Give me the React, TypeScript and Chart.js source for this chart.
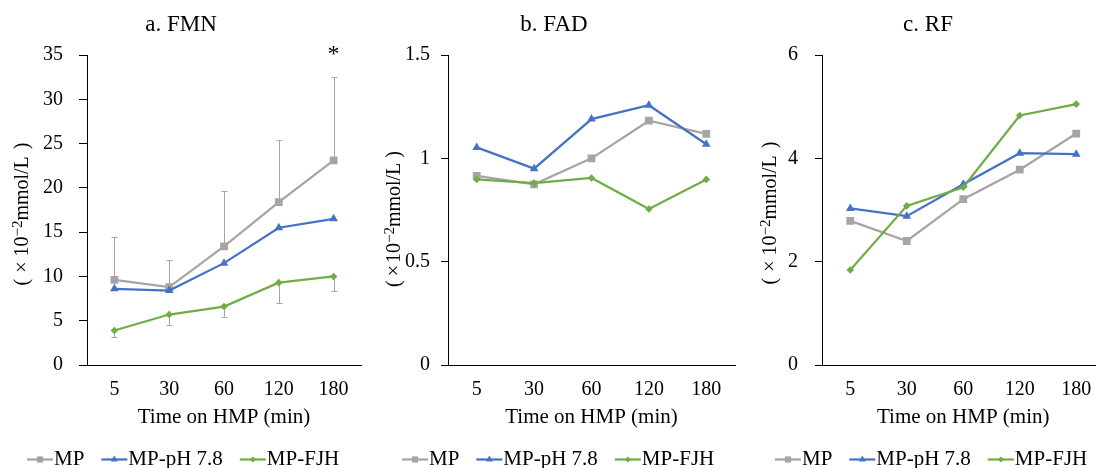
import { useEffect, useRef } from 'react';
import { Chart, registerables } from 'chart.js';

Chart.register(...registerables);

// Sampling times on hypothermic machine perfusion
const categories = ['5', '30', '60', '120', '180'];
const seriesNames = ['MP', 'MP-pH 7.8', 'MP-FJH'];

// a. FMN (×10⁻² mmol/L)
const fmnMP = [9.6, 8.8, 13.4, 18.4, 23.1];
const fmnPH = [8.6, 8.4, 11.5, 15.5, 16.5];
const fmnFJH = [3.9, 5.7, 6.6, 9.3, 10.0];
const fmnMPUpper = [14.4, 11.9, 19.7, 25.4, 32.5];
const fmnFJHLower = [3.2, 4.5, 5.4, 7.0, 8.4];
const fmnTicks = [0, 5, 10, 15, 20, 25, 30, 35];

// b. FAD (×10⁻² mmol/L)
const fadMP = [0.915, 0.874, 1.0, 1.182, 1.118];
const fadPH = [1.053, 0.95, 1.19, 1.257, 1.068];
const fadFJH = [0.898, 0.88, 0.905, 0.755, 0.898];
const fadTicks = [0, 0.5, 1, 1.5];

// c. RF (×10⁻² mmol/L)
const rfMP = [2.79, 2.4, 3.21, 3.78, 4.48];
const rfPH = [3.03, 2.88, 3.5, 4.1, 4.08];
const rfFJH = [1.84, 3.08, 3.44, 4.83, 5.05];
const rfTicks = [0, 2, 4, 6];

const SERIF = "'Liberation Serif', 'Times New Roman', serif";
const COLORS = ['#A5A5A5', '#4472C4', '#70AD47'];
const STYLES = ['rect', 'triangle', 'rectRot'];
const RADII = [5.5, 5, 3.8];
const ERR_COLOR = '#A5A5A5';

type Panel = {
  title: string;
  titleX: number;
  yTitleX: number;
  yTitleY: number;
  yGaps: [number, number, number];
  padLeft: number;
  padRight: number;
  axisWidth: number;
  tickLen: number;
  tickPad: number;
  ticks: number[];
  series: number[][];
  legendX: number;
  upper?: number[];
  lower?: number[];
  star?: boolean;
};

const CANVAS_W = 1110;
const CANVAS_H = 468;

const panels: Panel[] = [
  {
    title: 'a. FMN', titleX: 181,
    yTitleX: 21, yTitleY: 214, yGaps: [6, 5, 7],
    padLeft: 0, padRight: CANVAS_W - 361, axisWidth: 87, tickLen: 8, tickPad: 16,
    ticks: fmnTicks, series: [fmnMP, fmnPH, fmnFJH], legendX: 27,
    upper: fmnMPUpper, lower: fmnFJHLower, star: true,
  },
  {
    title: 'b. FAD', titleX: 554,
    yTitleX: 393, yTitleY: 219, yGaps: [4, 2, 5],
    padLeft: 370, padRight: CANVAS_W - 735, axisWidth: 78, tickLen: 7, tickPad: 11,
    ticks: fadTicks, series: [fadMP, fadPH, fadFJH], legendX: 402,
  },
  {
    title: 'c. RF', titleX: 928,
    yTitleX: 769, yTitleY: 213, yGaps: [6, 5, 7],
    padLeft: 748, padRight: CANVAS_W - 1107, axisWidth: 74, tickLen: 7, tickPad: 17,
    ticks: rfTicks, series: [rfMP, rfPH, rfFJH], legendX: 775,
  },
];

function marker(ctx: CanvasRenderingContext2D, style: string, x: number, y: number, r: number) {
  ctx.beginPath();
  if (style === 'rect') {
    const s = r * Math.SQRT1_2;
    ctx.rect(x - s, y - s, 2 * s, 2 * s);
  } else if (style === 'triangle') {
    const w = r * Math.sin((2 * Math.PI) / 3);
    ctx.moveTo(x, y - r);
    ctx.lineTo(x + w, y + r / 2);
    ctx.lineTo(x - w, y + r / 2);
    ctx.closePath();
  } else {
    ctx.moveTo(x, y - r);
    ctx.lineTo(x + r, y);
    ctx.lineTo(x, y + r);
    ctx.lineTo(x - r, y);
    ctx.closePath();
  }
  ctx.fill();
}

// Unit label "(×10⁻²mmol/L)" drawn rotated, with a raised exponent
function drawUnit(ctx: CanvasRenderingContext2D, cx: number, cy: number, gaps: [number, number, number]) {
  const main = `20px ${SERIF}`;
  const sup = `15px ${SERIF}`;
  const parts: { t: string; f: string; dy: number; gap: number }[] = [
    { t: '(', f: main, dy: 0, gap: gaps[0] },
    { t: '×', f: main, dy: 0, gap: gaps[1] },
    { t: '10', f: main, dy: 0, gap: 0 },
    { t: '−2', f: sup, dy: -6, gap: 0 },
    { t: 'mmol/L', f: main, dy: 0, gap: gaps[2] },
    { t: ')', f: main, dy: 0, gap: 0 },
  ];
  let total = 0;
  const widths = parts.map((p) => {
    ctx.font = p.f;
    const w = ctx.measureText(p.t).width;
    total += w + p.gap;
    return w;
  });
  ctx.save();
  ctx.translate(cx, cy);
  ctx.rotate(-Math.PI / 2);
  ctx.textAlign = 'left';
  ctx.textBaseline = 'alphabetic';
  let x = -total / 2;
  const base = 7;
  parts.forEach((p, i) => {
    ctx.font = p.f;
    ctx.fillText(p.t, x, base + p.dy);
    x += widths[i] + p.gap;
  });
  ctx.restore();
}

function makeDecor(p: Panel) {
  return {
    id: 'panelDecor',
    beforeDatasetsDraw(chart: any) {
      const { ctx, scales } = chart;
      const xs = scales.x;
      const ys = scales.y;
      ctx.save();
      ctx.strokeStyle = ERR_COLOR;
      ctx.lineWidth = 1;
      const bar = (vals: number[], ends: number[]) => {
        vals.forEach((v, i) => {
          const x = Math.round(xs.getPixelForValue(i)) + 0.5;
          const y0 = ys.getPixelForValue(v);
          const y1 = Math.round(ys.getPixelForValue(ends[i])) + 0.5;
          ctx.beginPath();
          ctx.moveTo(x, y0);
          ctx.lineTo(x, y1);
          ctx.moveTo(x - 3, y1);
          ctx.lineTo(x + 3, y1);
          ctx.stroke();
        });
      };
      if (p.upper) bar(p.series[0], p.upper);
      if (p.lower) bar(p.series[2], p.lower);
      ctx.restore();
    },
    afterDraw(chart: any) {
      const { ctx, scales, chartArea } = chart;
      ctx.save();
      ctx.fillStyle = '#000';

      // panel title
      ctx.font = `23px ${SERIF}`;
      ctx.textAlign = 'center';
      ctx.textBaseline = 'alphabetic';
      ctx.fillText(p.title, p.titleX, 31);

      // significance mark above the last time point
      if (p.star) {
        ctx.font = `24px ${SERIF}`;
        ctx.fillText('*', scales.x.getPixelForValue(categories.length - 1), chartArea.top + 6);
      }

      // rotated y-axis unit label
      drawUnit(ctx, p.yTitleX, p.yTitleY, p.yGaps);

      // legend: line with marker, then series name
      ctx.font = `21px ${SERIF}`;
      ctx.textAlign = 'left';
      let x = p.legendX;
      const base = 465;
      const cy = 459.5;
      seriesNames.forEach((name, i) => {
        ctx.strokeStyle = COLORS[i];
        ctx.fillStyle = COLORS[i];
        ctx.lineWidth = 2.25;
        ctx.beginPath();
        ctx.moveTo(x, cy);
        ctx.lineTo(x + 26, cy);
        ctx.stroke();
        marker(ctx, STYLES[i], x + 13, cy, RADII[i] * 0.8);
        ctx.fillStyle = '#000';
        ctx.fillText(name, x + 27, base);
        x += 27 + ctx.measureText(name).width + 17;
      });
      ctx.restore();
    },
  };
}

function buildConfig(p: Panel): any {
  return {
    type: 'line',
    data: {
      labels: categories,
      datasets: p.series.map((vals, i) => ({
        label: seriesNames[i],
        data: vals,
        borderColor: COLORS[i],
        backgroundColor: COLORS[i],
        borderWidth: 2.25,
        pointStyle: STYLES[i],
        pointRadius: RADII[i],
        pointBorderWidth: 0,
        pointBackgroundColor: COLORS[i],
        tension: 0,
        order: 3 - i,
      })),
    },
    options: {
      responsive: false,
      animation: false,
      layout: { padding: { left: p.padLeft, right: p.padRight, top: 55, bottom: 0 } },
      plugins: {
        legend: { display: false },
        tooltip: { enabled: false },
        title: { display: false },
      },
      scales: {
        x: {
          type: 'category',
          offset: true,
          grid: { display: false, drawTicks: false },
          border: { display: true, color: '#000', width: 1 },
          ticks: {
            color: '#000',
            font: { family: SERIF, size: 20 },
            padding: 13,
            maxRotation: 0,
            autoSkip: false,
          },
          title: {
            display: true,
            text: 'Time on HMP (min)',
            color: '#000',
            font: { family: SERIF, size: 21 },
            padding: { top: 0, bottom: 38 },
          },
          afterFit: (s: any) => {
            s.height = CANVAS_H - 365;
          },
        },
        y: {
          min: p.ticks[0],
          max: p.ticks[p.ticks.length - 1],
          grid: {
            display: true,
            drawOnChartArea: false,
            drawTicks: true,
            tickLength: p.tickLen,
            color: '#000',
          },
          border: { display: true, color: '#000', width: 1 },
          ticks: {
            color: '#000',
            font: { family: SERIF, size: 20 },
            padding: p.tickPad,
            callback: (v: number) => String(v),
          },
          afterBuildTicks: (s: any) => {
            s.ticks = p.ticks.map((v) => ({ value: v }));
          },
          afterFit: (s: any) => {
            s.width = p.axisWidth;
          },
        },
      },
    },
    plugins: [makeDecor(p)],
  };
}

export default function App() {
  const r0 = useRef<HTMLCanvasElement>(null);
  const r1 = useRef<HTMLCanvasElement>(null);
  const r2 = useRef<HTMLCanvasElement>(null);
  const refs = [r0, r1, r2];

  useEffect(() => {
    const charts = panels.map((p, i) => new Chart(refs[i].current as HTMLCanvasElement, buildConfig(p)));
    return () => charts.forEach((c) => c.destroy());
  }, []);

  return (
    <div
      style={{
        position: 'fixed',
        left: 0,
        top: 0,
        width: 1096,
        height: 468,
        overflow: 'hidden',
        background: '#fff',
      }}
    >
      {panels.map((p, i) => (
        <canvas
          key={p.title}
          ref={refs[i]}
          width={CANVAS_W}
          height={CANVAS_H}
          style={{ position: 'absolute', left: 0, top: 0 }}
        />
      ))}
    </div>
  );
}
